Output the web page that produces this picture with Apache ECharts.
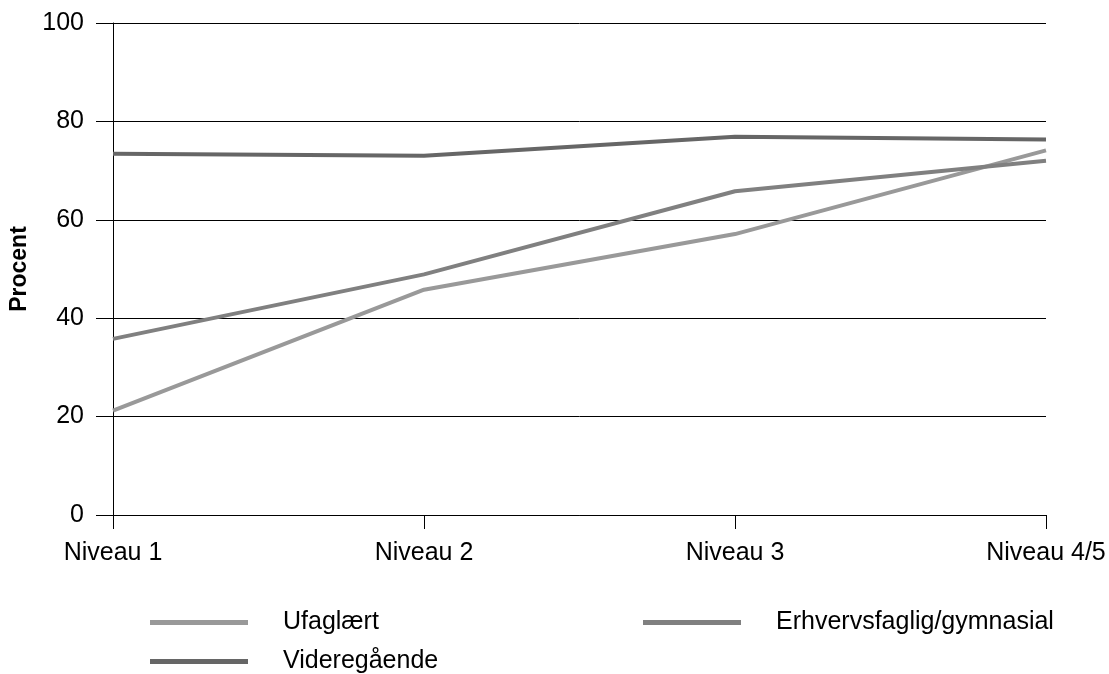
<!DOCTYPE html>
<html>
<head>
<meta charset="utf-8">
<script src="https://cdn.jsdelivr.net/npm/echarts@6/dist/echarts.min.js"></script>
<style>html,body{margin:0;padding:0;background:#fff}#c{width:1109px;height:674px}</style>
</head>
<body>
<div id="c"></div>
<script>
const categories = ['Niveau 1', 'Niveau 2', 'Niveau 3', 'Niveau 4/5'];
const ufaglaert = [21.2, 45.8, 57.1, 74.1];
const erhverv = [35.8, 48.9, 65.8, 72.0];
const videre = [73.4, 73.0, 76.9, 76.3];
const seriesNames = ['Ufaglært', 'Erhvervsfaglig/gymnasial', 'Videregående'];
const yTicks = [0, 20, 40, 60, 80, 100];

const colors = ['#999999', '#808080', '#666666'];
const font = 'Liberation Sans, Arial, sans-serif';
const chart = echarts.init(document.getElementById('c'));
const legendBase = {
  icon: 'rect', itemWidth: 98, itemHeight: 5, itemGap: 0,
  textStyle: { fontFamily: font, fontSize: 25, color: '#000', padding: [0, 0, 0, 30] },
  selectedMode: false
};
chart.setOption({
  animation: false,
  color: colors,
  grid: { left: 113, right: 63, top: 23, bottom: 159, containLabel: false },
  legend: [
    Object.assign({}, legendBase, { data: [seriesNames[0]], left: 145, top: 605 }),
    Object.assign({}, legendBase, { data: [seriesNames[1]], left: 638, top: 605 }),
    Object.assign({}, legendBase, { data: [seriesNames[2]], left: 145, top: 644 })
  ],
  xAxis: {
    type: 'category', data: categories, boundaryGap: false,
    axisLine: { lineStyle: { color: '#000', width: 1 } },
    axisTick: { show: true, length: 14, lineStyle: { color: '#000' }, alignWithLabel: true },
    axisLabel: { fontFamily: font, fontSize: 25, color: '#000', margin: 26 }
  },
  yAxis: {
    type: 'value', min: yTicks[0], max: yTicks[yTicks.length - 1], interval: 20,
    name: 'Procent', nameLocation: 'middle', nameGap: 80, nameRotate: 90,
    nameTextStyle: { fontFamily: font, fontSize: 23, fontWeight: 'bold', color: '#000' },
    axisLine: { show: true, lineStyle: { color: '#000', width: 1 } },
    axisTick: { show: true, length: 17, lineStyle: { color: '#000' } },
    axisLabel: { fontFamily: font, fontSize: 25, color: '#000', margin: 29 },
    splitLine: { show: true, lineStyle: { color: '#000', width: 1 } }
  },
  series: [
    { name: seriesNames[0], type: 'line', data: ufaglaert, symbol: 'none', lineStyle: { width: 4, color: colors[0] }, itemStyle: { color: colors[0] } },
    { name: seriesNames[1], type: 'line', data: erhverv, symbol: 'none', lineStyle: { width: 4, color: colors[1] }, itemStyle: { color: colors[1] } },
    { name: seriesNames[2], type: 'line', data: videre, symbol: 'none', lineStyle: { width: 4, color: colors[2] }, itemStyle: { color: colors[2] } }
  ]
});
</script>
</body>
</html>
